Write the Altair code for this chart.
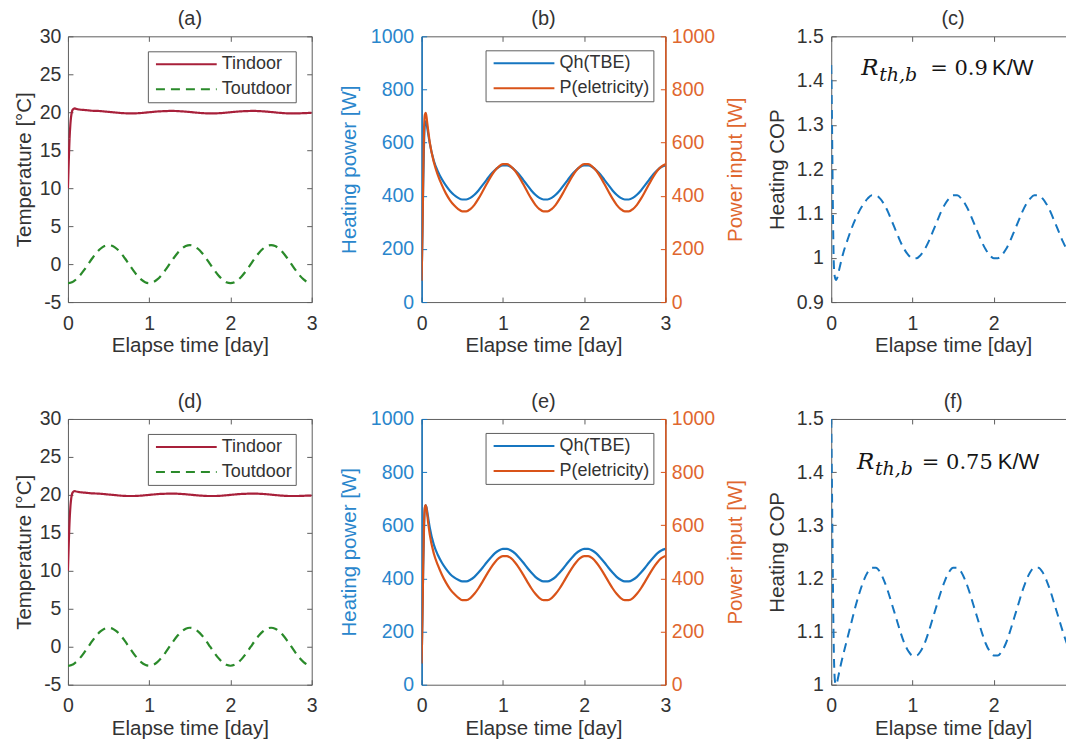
"""Six-panel TBE heating run (MATLAB look) rebuilt with Altair concat + layers."""

import altair as alt
import pandas as pd

# ---- data ---------------------------------------------------------------
# elapsed time [day]; dense at the start-up spike, 0.05 d afterwards
T = [0, 0.01, 0.02, 0.03, 0.04, 0.05, 0.06, 0.07, 0.08,
     0.10, 0.15, 0.20, 0.25, 0.30, 0.35, 0.40, 0.45,
     0.50, 0.55, 0.60, 0.65, 0.70, 0.75, 0.80, 0.85, 0.90, 0.95,
     1.00, 1.05, 1.10, 1.15, 1.20, 1.25, 1.30, 1.35, 1.40, 1.45,
     1.50, 1.55, 1.60, 1.65, 1.70, 1.75, 1.80, 1.85, 1.90, 1.95,
     2.00, 2.05, 2.10, 2.15, 2.20, 2.25, 2.30, 2.35, 2.40, 2.45,
     2.50, 2.55, 2.60, 2.65, 2.70, 2.75, 2.80, 2.85, 2.90, 2.95,
     3.00]

# (a)/(d) temperatures [°C]
TIN = [10.0, 13.5, 16.5, 18.4, 19.5, 20.1, 20.35, 20.45, 20.5,
       20.45, 20.35, 20.3, 20.25, 20.2, 20.18, 20.15, 20.1,
       20.05, 20.0, 19.95, 19.9, 19.87, 19.85, 19.85, 19.87, 19.9, 19.95,
       20.0, 20.05, 20.1, 20.13, 20.15, 20.17, 20.17, 20.15, 20.12, 20.08,
       20.03, 19.98, 19.93, 19.89, 19.86, 19.85, 19.85, 19.87, 19.9, 19.95,
       20.0, 20.05, 20.1, 20.13, 20.15, 20.17, 20.17, 20.15, 20.12, 20.08,
       20.03, 19.98, 19.93, 19.89, 19.86, 19.85, 19.85, 19.86, 19.88, 19.9,
       19.92]
TOUT = [-2.50, -2.50, -2.48, -2.46, -2.42, -2.38, -2.33, -2.27, -2.19,
        -2.02, -1.47, -0.77, 0.00, 0.77, 1.47, 2.02, 2.38,
        2.50, 2.38, 2.02, 1.47, 0.77, 0.00, -0.77, -1.47, -2.02, -2.38,
        -2.50, -2.38, -2.02, -1.47, -0.77, 0.00, 0.77, 1.47, 2.02, 2.38,
        2.50, 2.38, 2.02, 1.47, 0.77, 0.00, -0.77, -1.47, -2.02, -2.38,
        -2.50, -2.38, -2.02, -1.47, -0.77, 0.00, 0.77, 1.47, 2.02, 2.38,
        2.50, 2.38, 2.02, 1.47, 0.77, 0.00, -0.77, -1.47, -2.02, -2.38,
        -2.50]

# (b) heating power / electric power [W], R_th,b = 0.9 K/W
QH_B = [80, 250, 450, 600, 668, 680, 672, 655, 635,
        598, 532, 492, 462, 438, 418, 403, 392,
        386, 386, 392, 404, 420, 440, 460, 480, 496, 508,
        514, 514, 508, 496, 480, 460, 440, 420, 404, 392,
        386, 386, 392, 404, 420, 440, 460, 480, 496, 508,
        514, 514, 508, 496, 480, 460, 440, 420, 404, 392,
        386, 386, 392, 404, 420, 440, 460, 480, 496, 508,
        514]
P_B = [80, 260, 480, 650, 705, 712, 698, 672, 648,
       602, 527, 478, 440, 408, 383, 364, 350,
       341, 341, 350, 366, 389, 416, 444, 471, 494, 510,
       519, 519, 510, 494, 471, 444, 416, 389, 366, 350,
       341, 341, 350, 366, 389, 416, 444, 471, 494, 510,
       519, 519, 510, 494, 471, 444, 416, 389, 366, 350,
       341, 341, 350, 366, 389, 416, 444, 471, 494, 510,
       519]

# (e) same, R_th,b = 0.75 K/W
QH_E = [80, 250, 450, 595, 663, 675, 668, 650, 630,
        592, 527, 488, 459, 436, 417, 404, 395,
        389, 389, 395, 406, 422, 440, 460, 478, 494, 505,
        511, 511, 505, 494, 478, 460, 440, 422, 406, 395,
        389, 389, 395, 406, 422, 440, 460, 478, 494, 505,
        511, 511, 505, 494, 478, 460, 440, 422, 406, 395,
        389, 389, 395, 406, 422, 440, 460, 478, 494, 505,
        511]
P_E = [80, 250, 455, 610, 668, 676, 662, 638, 612,
       566, 494, 450, 414, 384, 360, 342, 328,
       318, 318, 326, 342, 363, 388, 414, 439, 460, 476,
       484, 484, 476, 460, 439, 414, 388, 363, 342, 326,
       318, 318, 326, 342, 363, 388, 414, 439, 460, 476,
       484, 484, 476, 460, 439, 414, 388, 363, 342, 326,
       318, 318, 326, 342, 363, 388, 414, 439, 460, 476,
       484]

# (c)/(f) heating COP
COP_C = [1.435, 1.30, 1.12, 1.00, 0.962, 0.953, 0.950, 0.953, 0.958,
         0.975, 1.012, 1.040, 1.066, 1.088, 1.107, 1.122, 1.134,
         1.141, 1.141, 1.134, 1.121, 1.103, 1.081, 1.059, 1.037, 1.019, 1.006,
         0.999, 0.999, 1.006, 1.019, 1.037, 1.059, 1.081, 1.103, 1.121, 1.134,
         1.141, 1.141, 1.134, 1.121, 1.103, 1.081, 1.059, 1.037, 1.019, 1.006,
         0.999, 0.999, 1.006, 1.019, 1.037, 1.059, 1.081, 1.103, 1.121, 1.134,
         1.141, 1.141, 1.134, 1.121, 1.103, 1.081, 1.059, 1.037, 1.019, 1.006,
         0.999]
COP_F = [1.50, 1.36, 1.20, 1.08, 1.02, 1.003, 1.000, 1.003, 1.010,
         1.025, 1.058, 1.088, 1.118, 1.148, 1.174, 1.196, 1.212,
         1.220, 1.220, 1.212, 1.196, 1.175, 1.150, 1.125, 1.100, 1.078, 1.063,
         1.055, 1.055, 1.063, 1.078, 1.100, 1.125, 1.150, 1.175, 1.196, 1.212,
         1.220, 1.220, 1.212, 1.196, 1.175, 1.150, 1.125, 1.100, 1.078, 1.063,
         1.055, 1.055, 1.063, 1.078, 1.100, 1.125, 1.150, 1.175, 1.196, 1.212,
         1.220, 1.220, 1.212, 1.196, 1.175, 1.150, 1.125, 1.100, 1.078, 1.063,
         1.055]

X_TICKS = [0, 1, 2, 3]
TEMP_TICKS = [-5, 0, 5, 10, 15, 20, 25, 30]
POWER_TICKS = [0, 200, 400, 600, 800, 1000]
COP_C_TICKS = [0.9, 1, 1.1, 1.2, 1.3, 1.4, 1.5]
COP_F_TICKS = [1, 1.1, 1.2, 1.3, 1.4, 1.5]

TEMP_SERIES = ["Tindoor", "Toutdoor"]
POWER_SERIES = ["Qh(TBE)", "P(eletricity)"]

# ---- style -----------------------------------------------------------------
W, H = 244, 266
FONT = "Liberation Sans"
SERIF = "DejaVu Serif"
INK = "#333333"
FRAME = "#5e5e5e"
RED = "#a8203a"
GREEN = "#2a8a2a"
BLUE = "#1676c0"
BLUE_TXT = "#2a86cc"
ORANGE = "#d95319"
ORANGE_TXT = "#e0672f"
DASH = [9, 6]
PLAIN = "'' + datum.value"  # 1000 not 1,000 ; -5 with a hyphen
XSCALE = alt.Scale(domain=[0, 3], nice=False, zero=False)


def x_main():
    return alt.X(
        "t:Q", scale=XSCALE, title="Elapse time [day]",
        axis=alt.Axis(values=X_TICKS, ticks=False, domain=False, labelFlush=False,
                      labelPadding=12, titlePadding=3, labelExpr=PLAIN),
    )


def y_axis(values, pad, tpad, **kw):
    return alt.Axis(values=values, ticks=False, domain=False, labelPadding=pad,
                    titlePadding=tpad, labelExpr=PLAIN, **kw)


def legend(x, y):
    return alt.Legend(title=None, orient="none", legendX=x, legendY=y)


def inward_ticks(df, yscale, yvals, left=FRAME, right=FRAME):
    # invisible layers whose axes are pulled across the plot: MATLAB-style
    # ticks pointing inwards on all four sides
    tk = dict(labels=False, domain=False, grid=False, tickSize=5, tickWidth=1)
    lower_left = alt.Chart(df).mark_line(opacity=0).encode(
        x=alt.X("t:Q", scale=XSCALE, title=None,
                axis=alt.Axis(orient="top", offset=-H, values=X_TICKS, tickColor=FRAME, **tk)),
        y=alt.Y("v:Q", scale=yscale, title=None,
                axis=alt.Axis(orient="right", offset=-W, values=yvals, tickColor=left, **tk)),
    )
    upper_right = alt.Chart(df).mark_line(opacity=0).encode(
        x=alt.X("t:Q", scale=XSCALE, title=None,
                axis=alt.Axis(orient="bottom", offset=-H, values=X_TICKS, tickColor=FRAME, **tk)),
        y=alt.Y("v:Q", scale=yscale, title=None,
                axis=alt.Axis(orient="left", offset=-W, values=yvals, tickColor=right, **tk)),
    )
    return [lower_left, upper_right]


def finish(layers, label):
    return (
        alt.layer(*layers)
        .resolve_axis(x="independent", y="independent")
        .properties(width=W, height=H, title=label)
    )


def temp_panel(label):
    n = len(T)
    df = pd.DataFrame({"t": T * 2, "series": [TEMP_SERIES[0]] * n + [TEMP_SERIES[1]] * n,
                       "v": TIN + TOUT})
    yscale = alt.Scale(domain=[-5, 30], nice=False, zero=False)
    lines = alt.Chart(df).mark_line(strokeWidth=2.2, clip=True, interpolate="monotone").encode(
        x=x_main(),
        y=alt.Y("v:Q", scale=yscale, title="Temperature [°C]", axis=y_axis(TEMP_TICKS, 7, 5)),
        color=alt.Color("series:N", scale=alt.Scale(domain=TEMP_SERIES, range=[RED, GREEN]),
                        legend=legend(80, 15)),
        strokeDash=alt.StrokeDash("series:N", scale=alt.Scale(domain=TEMP_SERIES, range=[[1, 0], DASH]),
                                  legend=legend(80, 15)),
    )
    return finish([lines] + inward_ticks(df, yscale, TEMP_TICKS), label)


def power_panel(label, qh, p):
    n = len(T)
    df = pd.DataFrame({"t": T * 2, "series": [POWER_SERIES[0]] * n + [POWER_SERIES[1]] * n,
                       "v": qh + p})
    yscale = alt.Scale(domain=[0, 1000], nice=False)
    color = alt.Color("series:N", scale=alt.Scale(domain=POWER_SERIES, range=[BLUE, ORANGE]),
                      legend=legend(64, 14))
    base = alt.Chart(df).mark_line(strokeWidth=2.2, clip=True, interpolate="monotone")
    heat = base.transform_filter(alt.datum.series == POWER_SERIES[0]).encode(
        x=x_main(),
        y=alt.Y("v:Q", scale=yscale, title="Heating power [W]",
                axis=y_axis(POWER_TICKS, 8, 11, orient="left", labelColor=BLUE_TXT,
                            titleColor=BLUE_TXT)),
        color=color,
    )
    elec = base.transform_filter(alt.datum.series == POWER_SERIES[1]).encode(
        x=alt.X("t:Q", scale=XSCALE, axis=None),
        y=alt.Y("v:Q", scale=yscale, title="Power input [W]",
                axis=y_axis(POWER_TICKS, 6, 11, orient="right", labelColor=ORANGE_TXT,
                            titleColor=ORANGE_TXT, titleAngle=270, titleBaseline="top")),
        color=color,
    )
    # coloured left / right spines drawn over the grey frame
    spine_l = alt.Chart(df).mark_line(opacity=0).encode(
        x=alt.X("t:Q", scale=XSCALE, axis=None),
        y=alt.Y("v:Q", scale=yscale, title=None,
                axis=alt.Axis(orient="left", labels=False, ticks=False, domainColor=BLUE,
                              domainWidth=1.5)),
    )
    spine_r = alt.Chart(df).mark_line(opacity=0).encode(
        x=alt.X("t:Q", scale=XSCALE, axis=None),
        y=alt.Y("v:Q", scale=yscale, title=None,
                axis=alt.Axis(orient="right", labels=False, ticks=False, domainColor=ORANGE,
                              domainWidth=1.5)),
    )
    ticks = inward_ticks(df, yscale, POWER_TICKS, left=BLUE, right=ORANGE)
    return finish([heat, elec, spine_l, spine_r] + ticks, label)


def cop_panel(label, cop, ydom, yvals, anchor, value_text, dx_eq, dx_unit):
    df = pd.DataFrame({"t": T, "v": cop})
    yscale = alt.Scale(domain=ydom, nice=False, zero=False)
    line = alt.Chart(df).mark_line(strokeWidth=2, strokeDash=DASH, color=BLUE, clip=True,
                                   interpolate="monotone").encode(
        x=x_main(),
        y=alt.Y("v:Q", scale=yscale, title="Heating COP", axis=y_axis(yvals, 8, 9)),
    )
    # R_th,b annotation, pieced together (no sub-scripts in Vega text)
    at = pd.DataFrame({"t": [anchor[0]], "v": [anchor[1]]})
    enc = dict(x=alt.X("t:Q", scale=XSCALE, axis=None), y=alt.Y("v:Q", scale=yscale, axis=None))
    pieces = [
        ("R", SERIF, "italic", 23, 0, 0),
        ("th,b", SERIF, "italic", 19, 18, 6),
        (value_text, SERIF, "normal", 21, dx_eq, 0),
        ("K/W", FONT, "normal", 22, dx_unit, 0),
    ]
    notes = [
        alt.Chart(at).mark_text(text=txt, font=fnt, fontStyle=sty, fontSize=sz, dx=dx, dy=dy,
                                align="left", baseline="alphabetic", color="#151515").encode(**enc)
        for txt, fnt, sty, sz, dx, dy in pieces
    ]
    return finish([line] + notes + inward_ticks(df, yscale, yvals), label)


def spacer(w):
    return (
        alt.Chart(pd.DataFrame({"v": [0]}))
        .mark_point(opacity=0)
        .properties(width=w, height=H, view=alt.ViewBackground(stroke="transparent"))
    )


panels = [
    temp_panel("(a)"), spacer(110), power_panel("(b)", QH_B, P_B), spacer(166),
    cop_panel("(c)", COP_C, [0.9, 1.5], COP_C_TICKS, (0.369, 1.413), "= 0.9", 69, 131),
    temp_panel("(d)"), spacer(110), power_panel("(e)", QH_E, P_E), spacer(166),
    cop_panel("(f)", COP_F, [1.0, 1.5], COP_F_TICKS, (0.316, 1.406), "= 0.75", 65, 141),
]

chart = (
    alt.concat(*panels, columns=5, spacing={"row": 117, "column": 0}, bounds="flush")
    .resolve_scale(color="independent", strokeDash="independent")
    # the reference is cropped at its right edge: trim the same way
    .properties(padding={"left": 5, "top": 0, "right": -15, "bottom": 0}, background="white")
    .configure_view(stroke=FRAME, strokeWidth=1)
    .configure_axis(labelFont=FONT, labelFontSize=19.5, labelColor=INK, titleFont=FONT,
                    titleFontSize=20.5, titleColor=INK, titleFontWeight="normal", grid=False)
    .configure_title(font=FONT, fontSize=20, fontWeight="normal", color=INK, offset=-3,
                     anchor="middle")
    .configure_legend(labelFont=FONT, labelFontSize=18, labelColor=INK, strokeColor=FRAME,
                      fillColor="white", padding=3, clipHeight=20, rowPadding=5,
                      symbolType="stroke", symbolSize=3700, symbolStrokeWidth=2,
                      symbolOffset=4, labelOffset=4, labelLimit=300)
)

chart.save("out.html", embed_options={"renderer": "svg", "actions": False})
